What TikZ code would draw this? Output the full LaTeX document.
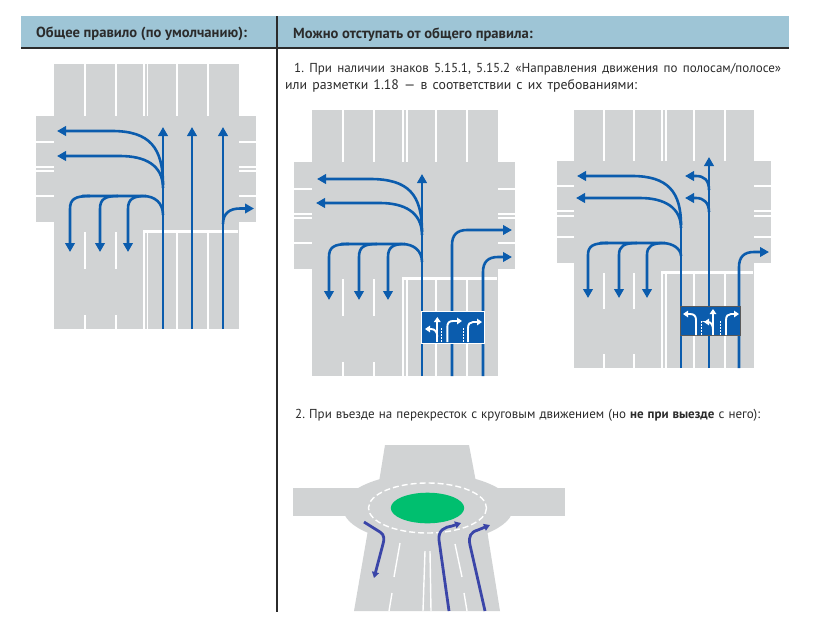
\documentclass[tikz,border=0pt]{standalone}
\usepackage{fontspec}
\setmainfont{PT Sans}
\usetikzlibrary{arrows.meta}
\definecolor{roadc}{HTML}{D1D3D4}
\definecolor{bandc}{HTML}{9EC5D6}
\definecolor{bluec}{HTML}{0B5CAD}
\definecolor{violc}{HTML}{3A45A8}
\definecolor{greenc}{HTML}{00BF6F}
\definecolor{inkc}{HTML}{2B2B2B}
\tikzset{
  road/.style={fill=roadc,draw=none},
  lane/.style={draw=white,line width=1.4pt},
  stopl/.style={draw=white,line width=3pt},
  route/.style={draw=bluec,line width=2.6pt,-{Triangle[length=9pt,width=9.5pt]}},
  routeplain/.style={draw=bluec,line width=2.6pt},
  ring/.style={draw=violc,line width=2.8pt,-{Triangle[length=6pt,width=7pt]}},
  glyph/.style={draw=white,line width=1.9pt,-{Triangle[length=5pt,width=6.5pt]}},
  glyphdash/.style={draw=white,line width=1pt,dash pattern=on 2pt off 1pt},
  txt/.style={anchor=base west,inner sep=0pt,text=inkc,font=\fontsize{13pt}{15pt}\selectfont\frenchspacing},
  txtb/.style={anchor=base west,inner sep=0pt,text=inkc,font=\fontsize{13.8pt}{15pt}\selectfont\frenchspacing},
  head/.style={anchor=base west,inner sep=0pt,text=inkc,font=\fontsize{14.6pt}{17pt}\selectfont\bfseries},
}
\begin{document}
\begin{tikzpicture}[x=1pt,y=-1pt]
\useasboundingbox (0,0) rectangle (813,622);
\fill[white] (0,0) rectangle (813,622);
% header
\fill[bandc] (21,16) rectangle (789,47);
\draw[inkc,line width=2pt] (21,48) -- (789,48);
\draw[inkc,line width=1.3pt] (277,16) -- (277,612);
\node[head] (h1) at (36,37) {Общее правило (по умолчанию):};
\node[head] (h2) at (293,38) {Можно отступать от общего правила:};
% texts
\node[txt] (t1) at (294,72) {\hbox to 487pt{1. При наличии знаков 5.15.1, 5.15.2 «Направления движения по полосам/полосе»}};
\node[txtb] (t2) at (285,89) {\hbox to 352pt{или разметки 1.18 — в соответствии с их требованиями:}};
\node[txt] (t3) at (295,418) {\hbox to 465pt{2. При въезде на перекресток с круговым движением (но \textbf{не при выезде} с него):}};

%% ---------- panel 1
\fill[road] (54,64) rectangle (239,329);
\fill[road] (36,116) rectangle (256,222);
\foreach \x in {85,116,144,147.5,177,208} \draw[lane] (\x,64) -- (\x,116);
\foreach \y in {142,167,171,196} {\draw[lane] (36,\y) -- (54,\y); \draw[lane] (239,\y) -- (256,\y);}
\foreach \x in {85,116} {\draw[lane] (\x,232) -- (\x,269); \draw[lane] (\x,315) -- (\x,329);}
\foreach \x in {177,208} \draw[lane] (\x,232) -- (\x,329);
\draw[stopl] (143,231) -- (238,231);
\foreach \x in {144,147.5} \draw[lane] (\x,231) -- (\x,329);
\draw[route] (163,329) -- (163,127);
\draw[route] (192,329) -- (192,127);
\draw[route] (223,329) -- (223,127);
\draw[route] (163,185) .. controls (163,148) and (150,131) .. (112,131) -- (57,131);
\draw[route] (163,188) .. controls (163,165) and (145,156) .. (120,156) -- (57,156);
\draw[routeplain] (163,215) .. controls (163,203) and (155,196) .. (143,196) -- (82,196);
\draw[route] (90,196) .. controls (75,196) and (70,199) .. (70,209) -- (70,252);
\draw[route] (118,196) .. controls (105,196) and (100,199) .. (100,209) -- (100,252);
\draw[route] (146,196) .. controls (133,196) and (128,199) .. (128,209) -- (128,252);
\draw[route] (223,224) .. controls (223,213) and (230,208.5) .. (240,208.5) -- (254,208.5);

%% ---------- panel 2
\fill[road] (312,110) rectangle (498,376);
\fill[road] (294,162) rectangle (515,269);
\foreach \x in {343,374,403,407,436,467} \draw[lane] (\x,110) -- (\x,162);
\foreach \y in {189,214,218,243} {\draw[lane] (294,\y) -- (312,\y); \draw[lane] (498,\y) -- (515,\y);}
\foreach \x in {343,374} {\draw[lane] (\x,279) -- (\x,316); \draw[lane] (\x,362) -- (\x,376);}
\foreach \x in {436,467} \draw[lane] (\x,279) -- (\x,376);
\draw[stopl] (402,278) -- (497,278);
\foreach \x in {403,407} \draw[lane] (\x,278) -- (\x,376);
\draw[route] (422,376) -- (422,174);
\draw[route] (422,232) .. controls (422,195) and (409,179) .. (370,179) -- (317,179);
\draw[route] (422,235) .. controls (422,212) and (404,203) .. (380,203) -- (316,203);
\draw[routeplain] (422,262) .. controls (422,251) and (414,244) .. (402,244) -- (341,244);
\draw[route] (349,244) .. controls (334,244) and (329,247) .. (329,257) -- (329,300);
\draw[route] (377,244) .. controls (364,244) and (359,247) .. (359,257) -- (359,300);
\draw[route] (405,244) .. controls (393,244) and (388,247) .. (388,257) -- (388,300);
\draw[route] (452,376) -- (452,245) .. controls (452,235) and (457,230) .. (467,230) -- (512,230);
\draw[route] (483,376) -- (483,272) .. controls (483,262) and (488,257) .. (498,257) -- (512,257);
% sign 5.15.1
\node[draw=white,fill=bluec,line width=1pt,minimum width=63pt,minimum height=32pt,inner sep=0pt] (sign2) at (452.5,327.5) {};
\draw[glyph] (437.3,342) -- (437.3,317);
\draw[glyph] (437.3,337) .. controls (437.3,332) and (435,329) .. (431,329) -- (425,329);
\draw[glyph] (447.3,342) -- (447.3,327) .. controls (447.3,323) and (449,321) .. (453,321) -- (462,321);
\draw[glyph] (468,342) -- (468,328) .. controls (468,324) and (470,322) .. (473,322) -- (482,322);
\foreach \x in {441.7,463.3} \draw[glyphdash] (\x,328) -- (\x,342);

%% ---------- panel 3
\fill[road] (574,110) rectangle (754,368);
\fill[road] (557,161) rectangle (771,263);
\foreach \x in {604,634,662,666,694,725} \draw[lane] (\x,110) -- (\x,161);
\foreach \y in {186,211,216,237} {\draw[lane] (557,\y) -- (574,\y); \draw[lane] (754,\y) -- (771,\y);}
\foreach \x in {604,634} {\draw[lane] (\x,273) -- (\x,309); \draw[lane] (\x,354) -- (\x,368);}
\foreach \x in {694,725} \draw[lane] (\x,273) -- (\x,368);
\draw[stopl] (661,272) -- (753,272);
\foreach \x in {662,666} \draw[lane] (\x,272) -- (\x,368);
\draw[routeplain] (681,368) -- (681,225);
\draw[route] (681,225) .. controls (681,192) and (668,176) .. (632,176) -- (577,176);
\draw[route] (681,228) .. controls (681,208) and (665,198) .. (640,198) -- (576,198);
\draw[routeplain] (681,256) .. controls (681,249) and (673,243) .. (662,243) -- (600,243);
\draw[route] (608,243) .. controls (593,243) and (588,246) .. (588,255) -- (588,298);
\draw[route] (637,243) .. controls (624,243) and (619,246) .. (619,255) -- (619,298);
\draw[route] (665,243) .. controls (652,243) and (647,246) .. (647,255) -- (647,298);
\draw[route] (709,368) -- (709,157);
\draw[route] (709,190) .. controls (709,180) and (704,176) .. (696,176) -- (685,176);
\draw[route] (709,212) .. controls (709,203) and (704,198) .. (696,198) -- (685,198);
\draw[route] (739,368) -- (739,267) .. controls (739,257) and (744,252) .. (754,252) -- (769,252);
% sign 5.15.2
\node[draw=black!65,fill=bluec,line width=1.2pt,minimum width=60pt,minimum height=29pt,inner sep=0pt] (sign3) at (710.5,321) {};
\draw[glyph] (696,335) -- (696,320) .. controls (696,316) and (694,314) .. (690,314) -- (683,314);
\draw[glyph] (713,335) -- (713,309);
\draw[glyph] (713,330) .. controls (713,325) and (711,322) .. (708,322) -- (704,322);
\draw[glyph] (726,335) -- (726,320) .. controls (726,316) and (728,314) .. (731,314) -- (739,314);
\foreach \x in {701,720} \draw[glyphdash] (\x,321) -- (\x,335);

%% ---------- roundabout
\fill[road] (428,508) ellipse [x radius=85,y radius=35];
\fill[road] (293,488) rectangle (565,516);
\fill[road] (379,482) -- (385,445) -- (469,445) -- (476,482) -- cycle;
\fill[road] (368,530) -- (354,611) -- (500,611) -- (487,530) -- cycle;
\draw[white,line width=1.4pt,dash pattern=on 6pt off 3pt] (427.5,508) ellipse [x radius=59,y radius=25];
\fill[greenc] (427.5,508) ellipse [x radius=36.7,y radius=15.3];
\draw[lane] (425,551) -- (423,611);
\draw[lane] (430,551) -- (431,611);
\draw[lane] (400,543) -- (394,577);
\draw[lane] (392,593) -- (389,611);
\draw[lane] (455,544) -- (462,577);
\draw[lane] (464,593) -- (467,611);
\draw[ring] (364,522) -- (380,532) .. controls (385,535) and (384,540) .. (383,544) -- (374,578);
\draw[ring] (449,611) -- (439,540) .. controls (438,530) and (445,527) .. (452,526) -- (461,523);
\draw[ring] (485,611) -- (470,545) .. controls (468,536) and (471,532) .. (478,530) -- (490,525);
\end{tikzpicture}
\end{document}
